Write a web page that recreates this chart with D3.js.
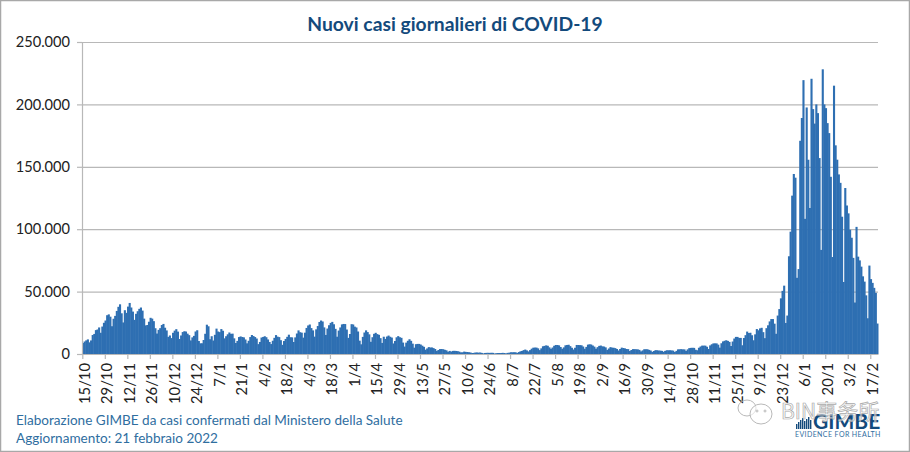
<!DOCTYPE html>
<html>
<head>
<meta charset="utf-8">
<script src="https://cdn.jsdelivr.net/npm/d3@7"></script>
<style>
html, body { margin: 0; padding: 0; background: #fff; }
svg { display: block; }
text { font-family: Lato, "Noto Sans", sans-serif; }
</style>
</head>
<body>
<div class="canvas"></div>
<script>
const [width, height] = [910, 452];

// daily new cases, one list per month
const oct20 = [8804,10010,10925,11705,9338,10874,15199,16079,19143,19644,21273,17012,21994,24991,26831,31084,31758];
const nov20 = [29907,22253,28244,30550,34505,37809,39811,32616,25271,35098,32961,37978,40902,37255,33979,27354,32191,34283,36176,37242,34767,28337,22930,23232,25853,29003,28352,26323,20648,16377];
const dec20 = [19350,20709,23225,24099,21052,18887,13720,14842,12755,16999,18727,19903,17938,12030,14844,17572,18236,17992,16308,15104,10872,13318,14522,18040,19037,10407,8585,8581,11212,16202,23477];
const jan21 = [22211,11831,14245,10800,15378,20331,18020,17533,19978,18627,12532,14242,15774,17246,16146,16310,12545,8824,10497,13571,14078,13633,13331,11629,8562,10593,13574,15204,14372,13574,12385];
const feb21 = [7925,9660,13189,13659,14218,13442,11641,9630,7970,10630,12956,15146,13908,13532,11068,7351,10386,12074,13762,15479,13452,13314,9630,13314,16424,18916,17455,17083];
const mar21 = [13114,17083,20884,22865,23641,20765,18916,13902,19749,22409,25673,26824,26062,21315,15267,20396,23059,24935,25735,23832,20159,13846,18765,21267,23696,24076,23987,19611,12916,16017,23904];
const apr21 = [23649,21932,21261,18025,10680,7767,13708,17221,18938,17567,15746,9789,13447,16168,16974,15943,15370,12694,8864,13844,12074,13988,14761,13817,13158,8444,10404,13385,14320,13446];
const may21 = [12965,9148,5948,9116,10585,11807,10554,8292,5080,7852,8085,8085,7567,6659,5753,3455,4452,5506,5218,5218,4717,3995,2490,3224,3937,3995,3847,3351,2949,1820,2483];
const jun21 = [1968,2483,2557,2436,2275,1894,1273,1400,1900,1700,1600,1390,1200,800,900,1200,1200,1100,1197,880,495,835,927,953,880,1000,900,389,680,776];
const jul21 = [808,794,932,808,480,907,1010,1394,1390,1400,1391,831,1552,2153,2455,3121,3558,2898,2072,3127,4259,5057,5143,5140,4522,3117,4522,6171,6513,6902,6599];
const aug21 = [5321,4200,5200,6596,7230,7210,6902,5600,4200,5300,6968,7230,7409,6300,5000,3600,5000,7230,7200,7100,7000,6000,4200,5700,7500,7800,7600,6800,5900,4252,5498];
const sep21 = [6503,6761,6157,5959,5315,3300,4400,5500,5100,5000,4700,4000,2800,4000,5100,4800,4500,4000,3900,2400,3200,3900,3900,3800,3700,3300,2100,2900,3800,3800];
const oct21 = [3800,3300,2800,1700,2400,3100,3000,2800,2700,2500,1800,2500,3000,3000,3000,2900,2700,1600,2500,3700,3800,3900,3700,3700,2500,3700,4700,4900,5000,4900,3400];
const nov21 = [3000,5000,6000,6700,6700,6700,5800,4000,6900,7800,8500,8500,8500,7500,5100,8600,10100,10600,11000,10500,9700,6400,10000,12400,13700,13700,12900,12900,7000,12800];
const dec21 = [15085,17959,16806,17030,15021,11000,15756,20000,19000,20500,21000,17500,12700,20700,23000,26100,28000,28000,24300,16200,30800,36000,44595,50599,54762,24883,30810,78313,98020,126888,144243];
const jan22 = [141262,61046,68052,170844,189109,219441,108304,197552,155659,117000,220532,196224,184615,200000,193000,157000,83403,228123,200000,197000,185000,177000,142000,77696,215000,167206,155697,143898,137147,110000,57715];
const feb22 = [133000,118994,112691,99522,93157,77029,41247,101864,78000,75000,70000,62230,58000,47000,28630,70852,60000,57000,53000,49000,24408];

const casesDaily = [].concat(oct20, nov20, dec20, jan21, feb21, mar21, apr21, may21, jun21, jul21, aug21, sep21, oct21, nov21, dec21, jan22, feb22);

const tickLabels = ['15/10','29/10','12/11','26/11','10/12','24/12','7/1','21/1','4/2','18/2','4/3','18/3','1/4','15/4','29/4','13/5','27/5','10/6','24/6','8/7','22/7','5/8','19/8','2/9','16/9','30/9','14/10','28/10','11/11','25/11','9/12','23/12','6/1','20/1','3/2','17/2'];
const tickEvery = 14;
const yTicks = [0, 50000, 100000, 150000, 200000, 250000];

const titleColor = '#134a7c';
const barColor = '#2e6fb2';
const gridColor = '#b8b8b8';
const footColor = '#2f6e9f';

const svg = d3.select('.canvas')
                .append('svg')
                .attr('width', width)
                .attr('height', height);

svg.append('rect')
    .attr('x', 0.5).attr('y', 0.5)
    .attr('width', width - 1).attr('height', height - 1)
    .attr('fill', '#fff')
    .attr('stroke', '#a8a8a8')
    .attr('stroke-width', 1.5);

const x = d3.scaleBand()
            .domain(d3.range(casesDaily.length))
            .range([82, 878])
            .padding(0);

const y = d3.scaleLinear()
            .domain([0, 250000])
            .range([354, 42]);

const itFormat = d3.formatLocale({decimal: ',', thousands: '.', grouping: [3], currency: ['', '€']}).format(',');

// grid first, bars go over it
svg.append('g')
    .attr('transform', 'translate(82,0)')
    .call(d3.axisLeft(y).tickValues(yTicks.slice(1)).tickSize(-796).tickFormat(''))
    .call(g => g.select('.domain').remove())
    .selectAll('line')
    .attr('stroke', gridColor)
    .attr('stroke-width', 1.2);

svg.selectAll('rect.bar')
    .data(casesDaily)
    .enter()
    .append('rect')
    .attr('class', 'bar')
    .attr('x', (d, i) => x(i))
    .attr('y', d => y(d))
    .attr('width', x.bandwidth() + 0.5)
    .attr('height', d => y(0) - y(d))
    .attr('fill', barColor);

const yAxis = svg.append('g')
    .attr('transform', 'translate(82,0)')
    .call(d3.axisLeft(y).tickValues(yTicks).tickSize(5).tickPadding(7).tickFormat(d => itFormat(d)));
yAxis.selectAll('text').attr('font-size', 14.6).attr('fill', '#222').style('font-family', 'Lato');
yAxis.selectAll('line, path').attr('stroke', gridColor).attr('stroke-width', 1.2);

const xAxis = svg.append('g')
    .attr('transform', 'translate(0,354)')
    .call(d3.axisBottom(x)
        .tickValues(tickLabels.map((d, i) => i * tickEvery))
        .tickSize(5)
        .tickSizeOuter(0)
        .tickFormat(d => tickLabels[d / tickEvery]));
xAxis.selectAll('line, path').attr('stroke', gridColor).attr('stroke-width', 1.2);
xAxis.selectAll('text')
    .attr('font-size', 14.8)
    .attr('fill', '#222')
    .style('font-family', 'Lato')
    .attr('text-anchor', 'end')
    .attr('dominant-baseline', 'central')
    .attr('y', 0)
    .attr('dy', 0)
    .attr('transform', 'translate(1,9) rotate(-90)');

svg.append('text')
    .attr('x', 455).attr('y', 31)
    .attr('text-anchor', 'middle')
    .attr('font-size', 19.3)
    .attr('font-weight', 700)
    .attr('fill', titleColor)
    .text('Nuovi casi giornalieri di COVID-19');

svg.append('text')
    .attr('x', 16).attr('y', 425)
    .attr('font-size', 13.55)
    .attr('fill', footColor)
    .text('Elaborazione GIMBE da casi confermati dal Ministero della Salute');

svg.append('text')
    .attr('x', 16).attr('y', 443)
    .attr('font-size', 13.55)
    .attr('fill', footColor)
    .text('Aggiornamento: 21 febbraio 2022');

// GIMBE logo
const logo = svg.append('g');
logo.selectAll('rect')
    .data([5, 7, 9, 11, 8, 10, 12, 9])
    .enter()
    .append('rect')
    .attr('x', (d, i) => 796 + i * 2)
    .attr('y', d => 429 - d)
    .attr('width', 1.4)
    .attr('height', d => d)
    .attr('fill', titleColor);
logo.append('text')
    .attr('x', 813).attr('y', 429)
    .attr('font-size', 21)
    .attr('font-weight', 700)
    .attr('fill', titleColor)
    .text('GIMBE');
logo.append('text')
    .attr('x', 795).attr('y', 437)
    .attr('font-size', 7)
    .attr('letter-spacing', 0.4)
    .attr('fill', footColor)
    .text('EVIDENCE FOR HEALTH');

// watermark over the logo
const mark = svg.append('g').attr('fill', 'none').attr('stroke', '#b9b9b9').attr('stroke-width', 1);
mark.append('ellipse').attr('cx', 747).attr('cy', 408).attr('rx', 9).attr('ry', 8);
mark.append('ellipse').attr('cx', 761).attr('cy', 414).attr('rx', 11).attr('ry', 10).attr('fill', 'rgba(255,255,255,0.6)');
mark.selectAll('circle')
    .data([[757, 411], [765, 411]])
    .enter()
    .append('circle')
    .attr('cx', d => d[0]).attr('cy', d => d[1]).attr('r', 1);
svg.append('text')
    .attr('x', 781).attr('y', 419)
    .attr('font-size', 21)
    .attr('fill', 'rgba(255,255,255,0.55)')
    .attr('stroke', '#a9a9a9')
    .attr('stroke-width', 0.7)
    .style('font-family', '"Noto Sans CJK SC"')
    .text('BIN事务所');
</script>
</body>
</html>
